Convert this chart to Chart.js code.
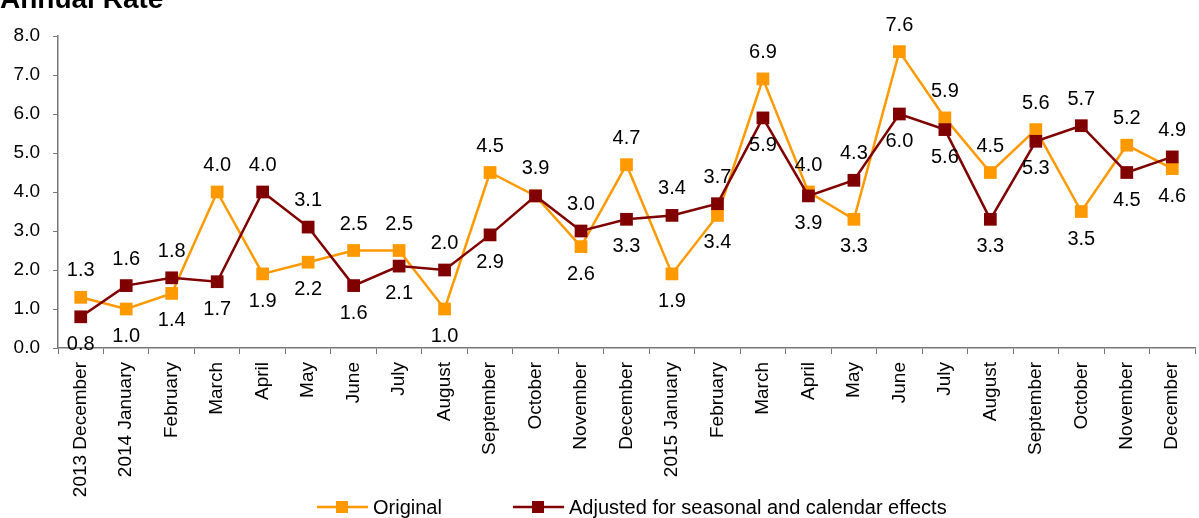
<!DOCTYPE html>
<html>
<head>
<meta charset="utf-8">
<title>Annual Rate</title>
<script src="https://cdn.jsdelivr.net/npm/chart.js@4.4.1/dist/chart.umd.min.js"></script>
<style>
  body { margin: 0; background: #fff; }
  canvas { display: block; }
</style>
</head>
<body>
<canvas id="myChart" width="1199" height="518"></canvas>
<script>
// categories (x axis)
var months = ['2013 December', '2014 January', 'February', 'March', 'April', 'May', 'June',
    'July', 'August', 'September', 'October', 'November', 'December', '2015 January',
    'February', 'March', 'April', 'May', 'June', 'July', 'August', 'September',
    'October', 'November', 'December'];

// series values
var original = [1.3, 1.0, 1.4, 4.0, 1.9, 2.2, 2.5, 2.5, 1.0, 4.5, 3.9, 2.6, 4.7,
    1.9, 3.4, 6.9, 4.0, 3.3, 7.6, 5.9, 4.5, 5.6, 3.5, 5.2, 4.6];
var adjusted = [0.8, 1.6, 1.8, 1.7, 4.0, 3.1, 1.6, 2.1, 2.0, 2.9, 3.9, 3.0, 3.3,
    3.4, 3.7, 5.9, 3.9, 4.3, 6.0, 5.6, 3.3, 5.3, 5.7, 4.5, 4.9];

var seriesNames = ['Original', 'Adjusted for seasonal and calendar effects'];
var seriesColors = ['#FF9900', '#800000'];

var FONT = '"Liberation Sans", Arial, sans-serif';

// value labels: higher value of the pair above the point, lower one below
var labelPlugin = {
    id: 'valueLabels',
    afterDatasetsDraw: function(chart) {
        var ctx = chart.ctx;
        var m0 = chart.getDatasetMeta(0);
        var m1 = chart.getDatasetMeta(1);
        ctx.save();
        ctx.font = '20px ' + FONT;
        ctx.fillStyle = '#000';
        ctx.textAlign = 'center';
        ctx.textBaseline = 'alphabetic';
        for (var i = 0; i < months.length; i++) {
            var a = original[i], b = adjusted[i];
            var pa = m0.data[i], pb = m1.data[i];
            if (a === b) {
                ctx.fillText(a.toFixed(1), pa.x, pa.y - 22);
                continue;
            }
            var hi = a > b ? pa : pb, lo = a > b ? pb : pa;
            ctx.fillText(Math.max(a, b).toFixed(1), hi.x, hi.y - 21);
            ctx.fillText(Math.min(a, b).toFixed(1), lo.x, lo.y + 33);
        }
        ctx.restore();
    }
};

// title + legend drawn by hand (line with square marker)
var extrasPlugin = {
    id: 'extras',
    afterDraw: function(chart) {
        var ctx = chart.ctx;
        ctx.save();
        ctx.fillStyle = '#000';
        ctx.font = 'bold 28px ' + FONT;
        ctx.textAlign = 'left';
        ctx.textBaseline = 'alphabetic';
        ctx.fillText('Annual Rate', 0, 8);

        var starts = [317, 513];
        var y = 507;
        ctx.font = '20px ' + FONT;
        ctx.textBaseline = 'middle';
        for (var k = 0; k < 2; k++) {
            var x = starts[k];
            ctx.strokeStyle = seriesColors[k];
            ctx.lineWidth = 2.5;
            ctx.beginPath();
            ctx.moveTo(x, y);
            ctx.lineTo(x + 51, y);
            ctx.stroke();
            ctx.fillStyle = seriesColors[k];
            ctx.fillRect(x + 25 - 6, y - 6, 12, 12);
            ctx.fillStyle = '#000';
            ctx.fillText(chart.data.datasets[k].label, x + 56, y + 1);
        }
        ctx.restore();
    }
};

var ctx = document.getElementById('myChart').getContext('2d');

var chart = new Chart(ctx, {
    type: 'line',
    data: {
        labels: months,
        datasets: [{
            label: seriesNames[0],
            data: original,
            order: 1,
            borderColor: seriesColors[0],
            backgroundColor: seriesColors[0],
            borderWidth: 2.5,
            pointStyle: 'rect',
            pointRadius: 9,
            pointBorderWidth: 0,
            tension: 0
        }, {
            label: seriesNames[1],
            data: adjusted,
            order: 0,
            borderColor: seriesColors[1],
            backgroundColor: seriesColors[1],
            borderWidth: 2.5,
            pointStyle: 'rect',
            pointRadius: 9,
            pointBorderWidth: 0,
            tension: 0
        }]
    },
    options: {
        responsive: false,
        animation: false,
        events: [],
        layout: {
            // big square markers would otherwise add extra room on the right
            autoPadding: false,
            padding: { left: 0, right: 4, top: 36, bottom: 0 }
        },
        plugins: {
            legend: { display: false },
            title: { display: false },
            tooltip: { enabled: false }
        },
        scales: {
            x: {
                offset: true,
                afterFit: function(scale) {
                    scale.height = 170;
                    scale.paddingRight = 0;
                },
                grid: {
                    offset: true,
                    drawOnChartArea: false,
                    drawTicks: true,
                    tickLength: 6,
                    color: '#777'
                },
                border: { display: true, color: '#777', width: 1.5 },
                ticks: {
                    autoSkip: false,
                    minRotation: 90,
                    maxRotation: 90,
                    padding: 8,
                    color: '#000',
                    font: { family: FONT, size: 19 }
                }
            },
            y: {
                min: 0,
                max: 8,
                afterFit: function(scale) { scale.width = 58; },
                grid: {
                    drawOnChartArea: false,
                    drawTicks: true,
                    tickLength: 5,
                    color: '#777'
                },
                border: { display: true, color: '#777', width: 1.5 },
                ticks: {
                    stepSize: 1,
                    padding: 13,
                    color: '#000',
                    font: { family: FONT, size: 19 },
                    callback: function(v) { return v.toFixed(1); }
                }
            }
        }
    },
    plugins: [labelPlugin, extrasPlugin]
});
</script>
</body>
</html>
